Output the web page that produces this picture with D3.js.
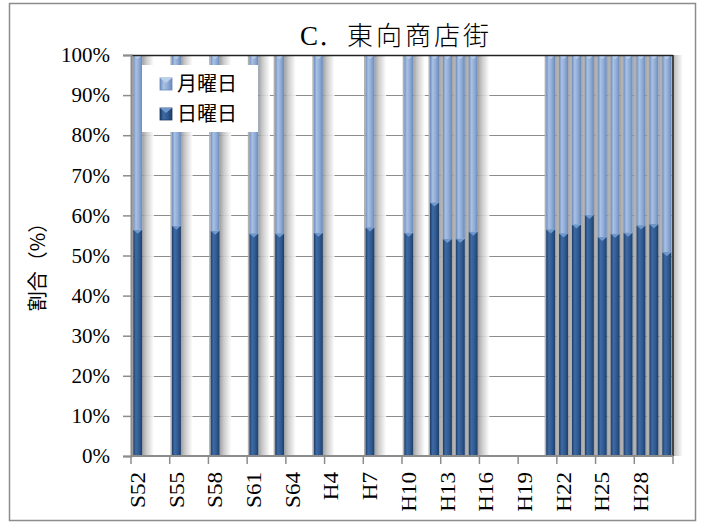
<!DOCTYPE html>
<html>
<head>
<meta charset="utf-8">
<script src="https://cdn.jsdelivr.net/npm/d3@7"></script>
<style>
body { margin: 0; background: #fff; }
</style>
</head>
<body>
<svg width="705" height="532"></svg>
<script>
var categories = ["S52","S53","S54","S55","S56","S57","S58","S59","S60","S61","S62","S63","S64",
    "H2","H3","H4","H5","H6","H7","H8","H9","H10","H11","H12","H13","H14","H15","H16","H17",
    "H18","H19","H20","H21","H22","H23","H24","H25","H26","H27","H28","H29","H30"];

// 日曜日 share (%), null = no survey
var sunday = [56.4,null,null,57.4,null,null,56.2,null,null,55.5,null,55.5,null,
    null,55.7,null,null,null,57.0,null,null,55.7,null,63.2,54.1,54.2,55.9,null,null,
    null,null,null,56.5,55.5,57.7,60.1,54.6,55.4,55.7,57.5,57.8,50.8];

// 月曜日 share (%)
var monday = [43.6,null,null,42.6,null,null,43.8,null,null,44.5,null,44.5,null,
    null,44.3,null,null,null,43.0,null,null,44.3,null,36.8,45.9,45.8,44.1,null,null,
    null,null,null,43.5,44.5,42.3,39.9,45.4,44.6,44.3,42.5,42.2,49.2];

var tickLabels = ["S52","S55","S58","S61","S64","H4","H7","H10","H13","H16","H19","H22","H25","H28"];
var yTicks = [0,10,20,30,40,50,60,70,80,90,100];
var seriesNames = ["月曜日","日曜日"];

var margin = {top: 55, right: 32, bottom: 76, left: 131};
var width = 705 - margin.left - margin.right;
var height = 532 - margin.top - margin.bottom;

var svg = d3.select("svg");

// outer frame
svg.append("rect")
    .attr("x", 9.5).attr("y", 3.5)
    .attr("width", 686).attr("height", 517)
    .attr("fill", "#fff")
    .attr("stroke", "#8c8c8c")
    .attr("stroke-width", 1.5);

var defs = svg.append("defs");

function barGradient(id, stops) {
    var g = defs.append("linearGradient").attr("id", id)
        .attr("x1", 0).attr("x2", 1).attr("y1", 0).attr("y2", 0);
    stops.forEach(function(s) {
        g.append("stop").attr("offset", s[0]).attr("stop-color", s[1]);
    });
}
barGradient("gLight", [[0, "#6c8cbd"], [0.3, "#a9c1e3"], [0.65, "#8eabd6"], [1, "#6a89b8"]]);
barGradient("gDark", [[0, "#1d3b63"], [0.3, "#3e6ba6"], [0.65, "#2f5a91"], [1, "#1f3d66"]]);
barGradient("gShadow", [[0, "#959595"], [0.35, "#c4c4c4"], [1, "#ffffff"]]);

var g = svg.append("g")
    .attr("transform", "translate(" + margin.left + "," + margin.top + ")");

var x = d3.scaleBand()
    .domain(categories)
    .range([0, width]);

var y = d3.scaleLinear()
    .domain([0, 100])
    .range([height, 0]);

var bw = x.bandwidth();
var barW = bw * 0.7;
var barOff = bw * 0.17;

// gridlines
g.selectAll(".grid")
    .data(yTicks.filter(function(d) { return d > 0 && d < 100; }))
    .enter().append("line")
    .attr("x1", 0).attr("x2", width)
    .attr("y1", function(d) { return Math.round(y(d)) + 0.5; })
    .attr("y2", function(d) { return Math.round(y(d)) + 0.5; })
    .attr("stroke", "#8c8c8c")
    .attr("stroke-width", 1.2);

var stack = categories.map(function(c, i) {
    return {cat: c, sun: sunday[i], mon: monday[i]};
}).filter(function(d) { return d.sun != null; });

// shadows
g.selectAll(".shadow")
    .data(stack)
    .enter().append("rect")
    .attr("x", function(d) { return x(d.cat) + barOff + barW; })
    .attr("y", y(100))
    .attr("width", bw * 0.9)
    .attr("height", height)
    .attr("fill", "url(#gShadow)")
    .attr("opacity", 0.9);

g.selectAll(".shadowL")
    .data(stack)
    .enter().append("rect")
    .attr("x", function(d) { return x(d.cat) + barOff - 1.5; })
    .attr("y", y(100))
    .attr("width", 1.5)
    .attr("height", height)
    .attr("fill", "#b0b0b0");

// 日曜日 (bottom)
g.selectAll(".sun")
    .data(stack)
    .enter().append("rect")
    .attr("x", function(d) { return x(d.cat) + barOff; })
    .attr("y", function(d) { return y(d.sun); })
    .attr("width", barW)
    .attr("height", function(d) { return y(0) - y(d.sun); })
    .attr("fill", "url(#gDark)");

// 月曜日 (top)
g.selectAll(".mon")
    .data(stack)
    .enter().append("rect")
    .attr("x", function(d) { return x(d.cat) + barOff; })
    .attr("y", function(d) { return y(d.sun + d.mon); })
    .attr("width", barW)
    .attr("height", function(d) { return y(d.sun) - y(d.sun + d.mon); })
    .attr("fill", "url(#gLight)");

// bevel markers on the top of each segment
function bevel(top, color, cls) {
    g.selectAll("." + cls)
        .data(stack)
        .enter().append("path")
        .attr("d", function(d) {
            var x0 = x(d.cat) + barOff, t = top(d);
            return "M" + x0 + "," + t + "L" + (x0 + barW) + "," + t +
                "L" + (x0 + barW / 2) + "," + (t + 4) + "Z";
        })
        .attr("fill", color);
}
bevel(function(d) { return y(d.sun); }, "#6f98cc", "bvSun");
bevel(function(d) { return y(d.sun + d.mon); }, "#bcd0ec", "bvMon");

// plot frame: top and right dark
g.append("line").attr("x1", 0).attr("x2", width).attr("y1", 0.5).attr("y2", 0.5)
    .attr("stroke", "#222").attr("stroke-width", 1.5);
g.append("line").attr("x1", width).attr("x2", width).attr("y1", 0).attr("y2", height)
    .attr("stroke", "#222").attr("stroke-width", 1.5);

// y axis
var yAxis = d3.axisLeft(y)
    .tickValues(yTicks)
    .tickSize(8)
    .tickPadding(13)
    .tickFormat(function(d) { return d + "%"; });

var yg = g.append("g").call(yAxis);
yg.select(".domain").attr("stroke", "#8c8c8c").attr("stroke-width", 2);
yg.selectAll(".tick line").attr("stroke", "#8c8c8c").attr("stroke-width", 1.5);
yg.selectAll("text")
    .attr("font-family", "'Liberation Serif', serif")
    .attr("font-size", 21)
    .attr("fill", "#000");

// x axis: ticks between groups of three categories
var xTickPos = d3.range(0, categories.length + 1, 3);
g.append("line")
    .attr("x1", 0).attr("x2", width)
    .attr("y1", height).attr("y2", height)
    .attr("stroke", "#8c8c8c").attr("stroke-width", 2);
g.selectAll(".xtick")
    .data(xTickPos)
    .enter().append("line")
    .attr("x1", function(i) { return i * x.step(); })
    .attr("x2", function(i) { return i * x.step(); })
    .attr("y1", height).attr("y2", height + 8)
    .attr("stroke", "#8c8c8c").attr("stroke-width", 1.5);

g.selectAll(".xlabel")
    .data(tickLabels)
    .enter().append("text")
    .attr("transform", function(d) {
        return "translate(" + (x(d) + bw / 2) + "," + (height + 16) + ") rotate(-90) scale(1.1,1)";
    })
    .attr("dy", "0.35em")
    .attr("text-anchor", "end")
    .attr("font-family", "'Liberation Serif', serif")
    .attr("font-size", 21)
    .text(function(d) { return d; });

// y axis title
svg.append("text")
    .attr("transform", "translate(38,262) rotate(-90)")
    .attr("text-anchor", "middle")
    .attr("dy", "0.35em")
    .attr("font-family", "'Noto Sans CJK JP', sans-serif")
    .attr("font-size", 20)
    .text("割合（%）");

// title
var title = svg.append("text")
    .attr("x", 396)
    .attr("y", 45)
    .attr("text-anchor", "middle")
    .attr("font-family", "'Noto Sans CJK JP', sans-serif")
    .attr("font-weight", 300)
    .attr("font-size", 26);
title.append("tspan")
    .attr("font-family", "'Liberation Serif', serif")
    .attr("font-size", 27)
    .text("C");
title.append("tspan")
    .attr("letter-spacing", 3)
    .text("．東向商店街");

// legend
var legend = svg.append("g").attr("transform", "translate(142,65)");
legend.append("rect")
    .attr("width", 116).attr("height", 67)
    .attr("fill", "#fff");
var items = legend.selectAll(".item")
    .data(seriesNames)
    .enter().append("g")
    .attr("transform", function(d, i) { return "translate(18," + (13 + i * 30) + ")"; });
items.append("rect")
    .attr("width", 12).attr("height", 12)
    .attr("fill", function(d, i) { return i === 0 ? "url(#gLight)" : "url(#gDark)"; })
    .attr("stroke", function(d, i) { return i === 0 ? "#6a89b8" : "#1d3b63"; })
    .attr("stroke-width", 0.8);
items.append("path")
    .attr("d", "M0,0L12,0L6,5Z")
    .attr("fill", function(d, i) { return i === 0 ? "#bcd0ec" : "#6f98cc"; });
items.append("text")
    .attr("x", 17)
    .attr("y", 6)
    .attr("dy", "0.35em")
    .attr("font-family", "'Noto Sans CJK JP', sans-serif")
    .attr("font-size", 20)
    .text(function(d) { return d; });
</script>
</body>
</html>
